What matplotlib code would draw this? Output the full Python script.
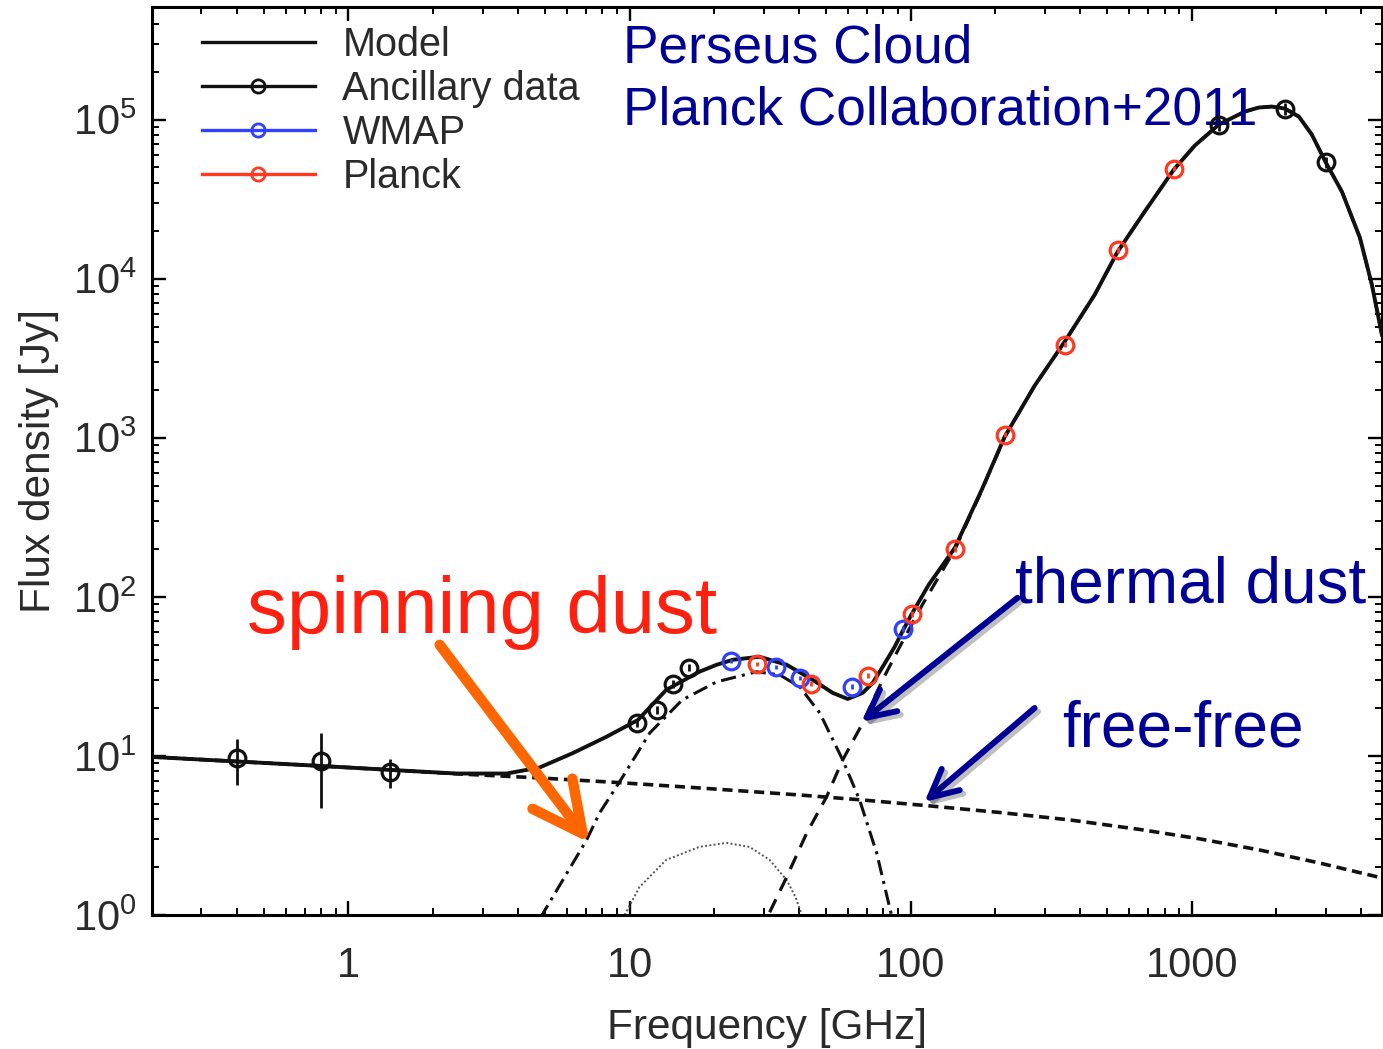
import numpy as np
import matplotlib
matplotlib.use("Agg")
import matplotlib.pyplot as plt
from matplotlib.lines import Line2D
from matplotlib.ticker import LogLocator, LogFormatterMathtext, NullFormatter
import matplotlib.patheffects as pe

plt.rcParams["font.family"] = ["Liberation Sans", "DejaVu Sans"]
plt.rcParams["mathtext.fontset"] = "custom"
plt.rcParams["mathtext.rm"] = "Liberation Sans"
plt.rcParams["mathtext.default"] = "regular"

INK = "#2a2a2a"
NAVY = "#000096"
BLUE = "#3040ff"
RED = "#ff3a20"

# --- measured SED points [GHz, Jy] ---
anc_freq = [0.40, 0.80, 1.40, 10.6, 12.5, 14.3, 16.3, 1250, 2140, 3000]
anc_flux = [9.7, 9.3, 7.9, 16.1, 19.5, 28.4, 35.8, 93000, 117000, 54000]
anc_err = [3.1, 4.6, 1.6, 1.0, 1.2, 1.5, 1.8, 8000, 10000, 4500]

wmap_freq = [22.9, 33.1, 40.3, 61.7, 93.7]
wmap_flux = [39.6, 36.3, 30.9, 27.2, 62.9]
wmap_err = [1.3, 1.2, 1.0, 1.0, 2.5]

planck_freq = [28.3, 44.1, 70.3, 100.8, 143.5, 216, 353, 545, 863]
planck_flux = [37.9, 28.4, 31.9, 78.2, 200, 1045, 3850, 15200, 49200]
planck_err = [1.2, 1.0, 1.2, 3.0, 8, 40, 150, 600, 2000]

# --- model components ---
model_freq = [0.199, 0.399, 0.795, 1.40, 2.42, 3.65, 4.78, 6.27, 8.28, 10.7,
              13.5, 17.7, 20.4, 23.3, 29.0, 36.2, 44.8, 52.8, 59.7, 67.5, 73.3,
              79.5, 87.7, 93.7, 100.5, 115.9, 143.5, 179, 216, 276, 353, 451.6,
              545, 680, 863, 1025, 1248, 1544, 1731, 1926, 2143, 2404, 2673,
              2999, 3420, 3963, 4372, 4745]
model_flux = [9.86, 9.23, 8.65, 8.17, 7.75, 7.75, 8.45, 10.4, 13.2, 16.8,
              26.0, 33.8, 37.4, 40.2, 42.0, 37.4, 30.1, 24.9, 22.8, 24.9, 28.8,
              36.3, 48.5, 61.1, 77.1, 119, 203, 471, 1015, 2124, 4016, 7930,
              14790, 26390, 48480, 68630, 93030, 112270, 119000, 120700, 117300,
              104400, 80500, 53660, 35250, 18110, 9170, 4446]

ff_freq = [0.199, 0.399, 0.795, 1.40, 2.48, 4.78, 8.99, 17.7, 40.3, 66.9,
           116.9, 207.4, 368, 653, 1068, 1746, 2855, 4745]
ff_flux = [9.86, 9.23, 8.65, 8.17, 7.70, 7.27, 6.81, 6.29, 5.68, 5.29,
           4.85, 4.41, 3.96, 3.45, 3.01, 2.56, 2.12, 1.71]

spin_freq = [4.8, 7.03, 7.82, 9.21, 11.8, 15.4, 20.4, 28.3, 34.2, 40.3, 47.5,
             57.3, 65.8, 75.7, 86]
spin_flux = [0.95, 2.96, 4.38, 6.86, 13.95, 22.5, 29.2, 33.8, 32.3, 27.2, 18.6,
             9.44, 5.29, 2.45, 0.95]

spin2_freq = [9.6, 10.85, 13.5, 17.7, 22.1, 26.7, 31.5, 36.2, 38.9, 41]
spin2_flux = [1.0, 1.50, 2.22, 2.68, 2.84, 2.68, 2.22, 1.66, 1.30, 1.0]

dust_freq = [31.5, 36.2, 42.7, 50.2, 57.3, 67.5, 79.5, 91.4, 110, 143.5, 179,
             216, 276, 353, 451.6, 545, 680, 863, 1025, 1248, 1544, 1731, 1926,
             2143, 2404, 2673, 2999, 3420, 3963, 4372, 4745]
dust_flux = [1.04, 1.73, 3.28, 5.53, 9.44, 16.1, 30.1, 48.5, 89.1, 198, 466,
             1010, 2119, 4011, 7925, 14785, 26385, 48475, 68625, 93025, 112265,
             118995, 120695, 117295, 104395, 80495, 53655, 35245, 18105, 9165,
             4442]

fig = plt.figure(figsize=(13.83, 10.49), dpi=100)
ax = fig.add_axes([152 / 1383, 1 - 915 / 1049, 1230 / 1383, 908 / 1049])
ax.set_xscale("log")
ax.set_yscale("log")
ax.set_xlim(0.2, 4750)
ax.set_ylim(1, 5.1e5)

ax.plot(spin2_freq, spin2_flux, color="#555555", lw=1.4, ls=(0, (1, 1.2)), zorder=2)
ax.plot(spin_freq, spin_flux, color="#111111", lw=2.2, ls=(0, (5, 2, 1, 2)), zorder=2)
ax.plot(dust_freq, dust_flux, color="#111111", lw=2.3, ls=(0, (4.5, 3)), zorder=2)
ax.plot(ff_freq, ff_flux, color="#111111", lw=2.6, ls=(0, (2.8, 1.6)), zorder=2)
ax.plot(model_freq, model_flux, color="#111111", lw=2.8, zorder=3)

pt = dict(fmt="o", mfc="none", ms=12, mew=2.3, elinewidth=2.0, capsize=0, zorder=4)
ax.errorbar(anc_freq, anc_flux, yerr=anc_err, color="#111111", **pt)
ax.errorbar(wmap_freq, wmap_flux, yerr=wmap_err, color=BLUE, **pt)
ax.errorbar(planck_freq, planck_flux, yerr=planck_err, color=RED, **pt)

# axes frame and ticks
for s in ax.spines.values():
    s.set_linewidth(2.2)
ax.tick_params(which="both", direction="in", top=True, right=True, colors="black",
               labelcolor=INK, labelsize=30)
ax.tick_params(which="major", length=10, width=1.7)
ax.tick_params(which="minor", length=5, width=1.4)
ax.tick_params(axis="x", pad=22)
ax.tick_params(axis="y", pad=11)
ax.xaxis.set_minor_locator(LogLocator(base=10, subs=np.arange(2, 10), numticks=20))
ax.xaxis.set_minor_formatter(NullFormatter())
ax.set_xticks([1, 10, 100, 1000])
ax.set_xticklabels(["1", "10", "100", "1000"])
ax.yaxis.set_major_locator(LogLocator(base=10, numticks=10))
ax.yaxis.set_major_formatter(LogFormatterMathtext())
ax.yaxis.set_minor_locator(LogLocator(base=10, subs=np.arange(2, 10), numticks=20))
ax.yaxis.set_minor_formatter(NullFormatter())

ax.set_xlabel("Frequency [GHz]", fontsize=30.5, color=INK, labelpad=16)
ax.set_ylabel("Flux density [Jy]", fontsize=30.5, color=INK, labelpad=10)

handles = [
    Line2D([], [], color="#111111", lw=2.4),
    Line2D([], [], color="#111111", lw=2.4, marker="o", mfc="none", ms=9.5, mew=2.0),
    Line2D([], [], color=BLUE, lw=2.4, marker="o", mfc="none", ms=9.5, mew=2.0),
    Line2D([], [], color=RED, lw=2.4, marker="o", mfc="none", ms=9.5, mew=2.0),
]
leg = ax.legend(handles, ["Model", "Ancillary data", "WMAP", "Planck"],
                loc="upper left", bbox_to_anchor=(0.0405, 0.979), frameon=False,
                fontsize=28.5, handlelength=2.85, handletextpad=0.7,
                labelspacing=0.15, borderaxespad=0, borderpad=0, numpoints=1)
for t in leg.get_texts():
    t.set_color(INK)

# annotations
ax.text(0.383, 0.9387, "Perseus Cloud", transform=ax.transAxes, fontsize=38.3,
        color=NAVY, va="baseline", ha="left")
ax.text(0.383, 0.871, "Planck Collaboration+2011", transform=ax.transAxes,
        fontsize=38.3, color=NAVY, va="baseline", ha="left")
ax.text(0.0772, 0.3106, "spinning dust", transform=ax.transAxes, fontsize=57.5,
        color="#ff2010", va="baseline", ha="left")
ax.text(0.7016, 0.3447, "thermal dust", transform=ax.transAxes, fontsize=46,
        color=NAVY, va="baseline", ha="left")
ax.text(0.7398, 0.1861, "free-free", transform=ax.transAxes, fontsize=46,
        color=NAVY, va="baseline", ha="left")

ax.annotate("", xy=(7.21, 2.84), xytext=(2.11, 49.9),
            arrowprops=dict(arrowstyle="->,head_length=3.6,head_width=1.8",
                            color="#ff6600", lw=7.5, shrinkA=0, shrinkB=0,
                            capstyle="round", joinstyle="round", mutation_scale=10))
shadow = [pe.SimpleLineShadow(offset=(2.5, -2.5), shadow_color="k", alpha=0.25), pe.Normal()]
for tip, tail in [((66.9, 16.4), (240, 98.6)), ((112, 5.14), (276, 20.0))]:
    a = ax.annotate("", xy=tip, xytext=tail,
                    arrowprops=dict(arrowstyle="->,head_length=2.0,head_width=1.0",
                                    color=NAVY, lw=4.3, shrinkA=0, shrinkB=0,
                                    mutation_scale=10))
    a.arrow_patch.set_path_effects(shadow)

fig.savefig("out.png", dpi=100)
